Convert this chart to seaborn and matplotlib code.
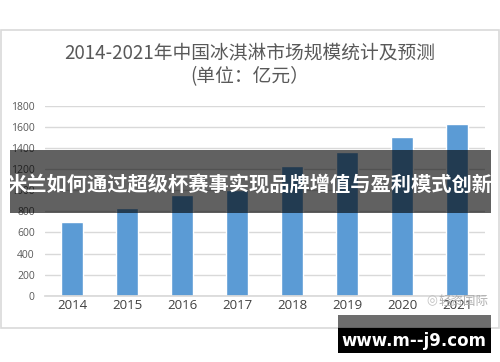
import matplotlib
matplotlib.use("Agg")
import matplotlib.pyplot as plt
import seaborn as sns
import pandas as pd
from matplotlib.patches import Rectangle

years = ["2014", "2015", "2016", "2017", "2018", "2019", "2020", "2021"]
values = [700, 831, 956, 1003, 1231, 1367, 1503, 1630]
yticks = [0, 200, 400, 600, 800, 1000, 1200, 1400, 1600, 1800]
title_line1 = "2014-2021年中国冰淇淋市场规模统计及预测"
title_line2 = "(单位：亿元）"
banner_text = "米兰如何通过超级杯赛事实现品牌增值与盈利模式创新"
site_text = "www.m--j9.com"
watermark = "轻资国际"

sns.set_theme(style="white")
plt.rcParams['font.family'] = ['Noto Sans CJK SC', 'DejaVu Sans']

W, H = 500, 362
fig = plt.figure(figsize=(W / 100, H / 100), dpi=100)
fig.patch.set_facecolor("white")

def fx(x):
    return x / W

def fy(y):
    return 1 - y / H

# outer chart frame
fig.patches.append(Rectangle((fx(1), fy(328)), fx(498), (328 - 30) / H,
                             transform=fig.transFigure, fill=False,
                             edgecolor="#d9d9d9", lw=1.2, zorder=0))

ax = fig.add_axes([fx(44.5), fy(295.7), 440 / W, (295.7 - 106) / H])
df = pd.DataFrame({"year": years, "value": values})
sns.barplot(data=df, x="year", y="value", color="#5b9bd5", saturation=1,
            width=0.39, ax=ax)
ax.set_xlim(-0.5, 7.5)
ax.set_ylim(0, 1800)
ax.set_yticks(yticks)
ax.set_yticklabels([str(v) for v in yticks])
ax.yaxis.grid(True, color="#d9d9d9", lw=1)
ax.set_axisbelow(True)
for s in ["top", "right", "left"]:
    ax.spines[s].set_visible(False)
ax.spines["bottom"].set_color("#d9d9d9")
ax.set_xlabel("")
ax.set_ylabel("")
ax.tick_params(axis="y", length=0, pad=7, labelsize=7.5, labelcolor="#595959")
ax.tick_params(axis="x", length=0, pad=2.5, labelsize=9.5, labelcolor="#404040")
for lab in ax.get_xticklabels() + ax.get_yticklabels():
    lab.set_family(['Open Sans', 'DejaVu Sans'])
ax.set_facecolor("none")

# titles
fig.text(0.5, fy(53), title_line1, ha="center", va="center",
         fontsize=13.5, color="#595959")
fig.text(0.5, fy(77), title_line2, ha="center", va="center",
         fontsize=13.5, color="#595959")

# watermark near bottom right
fig.text(fx(463), fy(301), watermark, ha="center", va="center",
         fontsize=9, color="#b0b0b0")
fig.text(fx(432), fy(301), "◎", ha="center", va="center",
         fontsize=9, color="#c0c0c0", family=['DejaVu Sans'])

# banner overlay
fig.patches.append(Rectangle((fx(10), fy(213)), fx(481), (213 - 150) / H,
                             transform=fig.transFigure, facecolor="black",
                             alpha=0.62, lw=0, zorder=5))
fig.text(fx(250), fy(184), banner_text, ha="center", va="center",
         fontsize=14.6, color="white", fontweight="bold", zorder=6)

# site box
fig.patches.append(Rectangle((fx(338), fy(328)), fx(153), (328 - 315) / H,
                             transform=fig.transFigure, facecolor="black",
                             alpha=0.57, lw=0, zorder=5))
fig.patches.append(Rectangle((fx(338), fy(353)), fx(153), (353 - 328) / H,
                             transform=fig.transFigure, facecolor="black",
                             lw=0, zorder=5))
fig.text(fx(414), fy(341), site_text, ha="center", va="center",
         fontsize=12, color="white", fontweight="bold", zorder=6,
         family=['DejaVu Sans'])

fig.savefig("out.png", dpi=100)
